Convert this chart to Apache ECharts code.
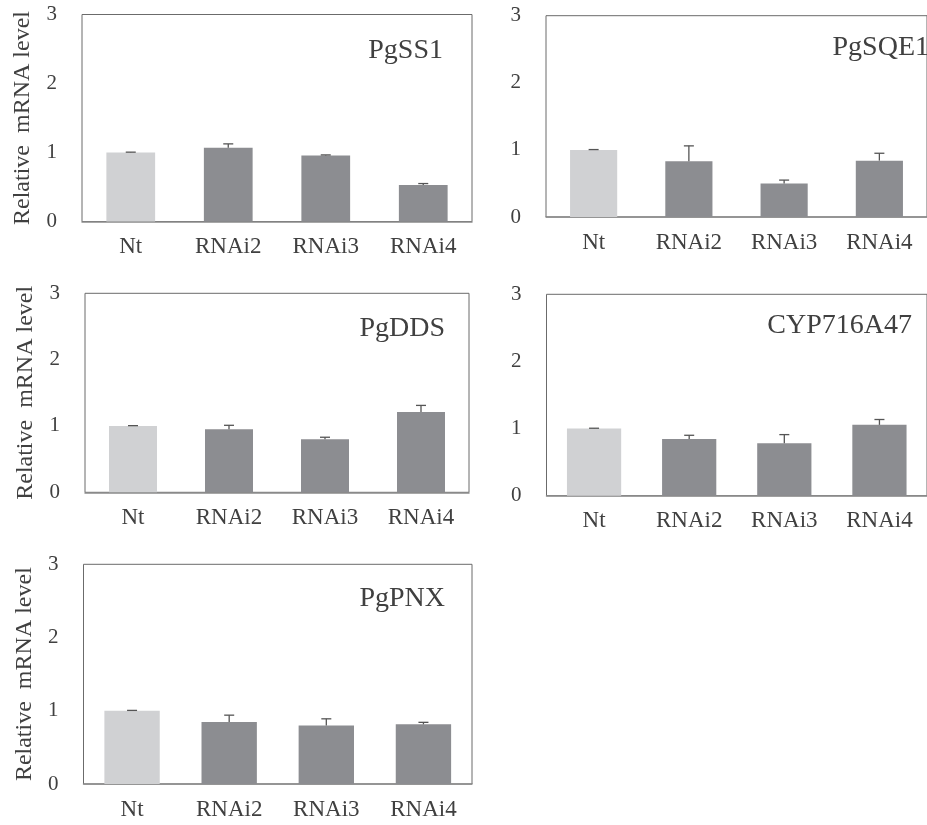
<!DOCTYPE html>
<html>
<head>
<meta charset="utf-8">
<script src="https://cdn.jsdelivr.net/npm/echarts@6/dist/echarts.min.js"></script>
<style>
  html, body { margin: 0; padding: 0; background: #fff; }
  #chart { width: 927px; height: 825px; }
</style>
</head>
<body>
<div id="chart"></div>
<script>
// Relative transcript levels of five genes in control (Nt) and RNAi lines
const categories = ['Nt', 'RNAi2', 'RNAi3', 'RNAi4'];
const yTicks = [0, 1, 2, 3];
const genes = ['PgSS1', 'PgSQE1', 'PgDDS', 'CYP716A47', 'PgPNX'];

const ss1Mean = [1.00, 1.07, 0.955, 0.53];
const ss1Err = [0.005, 0.055, 0.01, 0.02];
const sqe1Mean = [1.00, 0.83, 0.50, 0.84];
const sqe1Err = [0.005, 0.23, 0.05, 0.11];
const ddsMean = [1.00, 0.95, 0.80, 1.21];
const ddsErr = [0.005, 0.06, 0.03, 0.10];
const cypMean = [1.00, 0.845, 0.78, 1.055];
const cypErr = [0.005, 0.055, 0.13, 0.08];
const pnxMean = [1.00, 0.845, 0.80, 0.815];
const pnxErr = [0.005, 0.095, 0.09, 0.027];

const yTitle = 'Relative  mRNA level';

// panel layout (pixels)
const panels = [
  { mean: ss1Mean, err: ss1Err, left: 82, top: 14.5, width: 390, height: 207, barWidth: '50%', yName: true, labelRight: 443, labelY: 51 },
  { mean: sqe1Mean, err: sqe1Err, left: 546, top: 15.7, width: 388, height: 201.3, barWidth: '49.5%', yName: false, labelRight: 929, labelY: 48 },
  { mean: ddsMean, err: ddsErr, left: 85, top: 293.3, width: 384, height: 199, barWidth: '50%', yName: true, labelRight: 445, labelY: 329 },
  { mean: cypMean, err: cypErr, left: 546.5, top: 294.3, width: 386.5, height: 201.4, barWidth: '57%', yName: false, labelRight: 912, labelY: 326 },
  { mean: pnxMean, err: pnxErr, left: 83.5, top: 564.3, width: 388.5, height: 219.7, barWidth: '57%', yName: true, labelRight: 445, labelY: 599 }
];

const FONT = '"Liberation Serif", "Times New Roman", serif';
const TEXT = '#404040';
const LIGHT = '#d0d1d3';
const DARK = '#8c8d91';

const grid = [], xAxis = [], yAxis = [], series = [], graphic = [];

panels.forEach((p, i) => {
  grid.push({
    left: p.left, top: p.top, width: p.width, height: p.height,
    show: true, borderColor: '#6b6b6b', borderWidth: 1, backgroundColor: 'transparent',
    containLabel: false
  });
  xAxis.push({
    type: 'category', gridIndex: i, data: categories,
    axisLine: { show: true, lineStyle: { color: '#8a8a8a', width: 1.5 } },
    axisTick: { show: false },
    axisLabel: { color: TEXT, fontFamily: FONT, fontSize: 23, margin: 14 },
    splitLine: { show: false }
  });
  yAxis.push({
    type: 'value', gridIndex: i, min: yTicks[0], max: yTicks[yTicks.length - 1], interval: 1,
    axisLine: { show: false }, axisTick: { show: false }, splitLine: { show: false },
    axisLabel: { color: TEXT, fontFamily: FONT, fontSize: 21, margin: 25 },
    name: p.yName ? yTitle : '',
    nameLocation: 'middle', nameGap: 47, nameRotate: 90,
    nameTextStyle: { color: TEXT, fontFamily: FONT, fontSize: 24 }
  });
  series.push({
    type: 'bar', xAxisIndex: i, yAxisIndex: i, barWidth: p.barWidth,
    data: p.mean.map((v, k) => ({ value: v, itemStyle: { color: k === 0 ? LIGHT : DARK } })),
    silent: true, animation: false
  });
  series.push({
    type: 'custom', xAxisIndex: i, yAxisIndex: i,
    data: p.mean.map((v, k) => [k, v, v + p.err[k]]),
    renderItem: function (params, api) {
      const base = api.coord([api.value(0), api.value(1)]);
      const tip = api.coord([api.value(0), api.value(2)]);
      const half = 5;
      const style = { stroke: '#555', lineWidth: 1.3 };
      return {
        type: 'group',
        children: [
          { type: 'line', shape: { x1: base[0], y1: base[1], x2: tip[0], y2: tip[1] }, style },
          { type: 'line', shape: { x1: tip[0] - half, y1: tip[1], x2: tip[0] + half, y2: tip[1] }, style }
        ]
      };
    },
    z: 5, silent: true, animation: false
  });
  graphic.push({
    type: 'text', x: p.labelRight, y: p.labelY,
    style: { text: genes[i], fill: TEXT, font: '28px ' + FONT, textAlign: 'right', textVerticalAlign: 'middle' }
  });
});

const chart = echarts.init(document.getElementById('chart'), null, { renderer: 'canvas' });
chart.setOption({
  animation: false,
  backgroundColor: '#ffffff',
  grid, xAxis, yAxis, series, graphic
});
</script>
</body>
</html>
